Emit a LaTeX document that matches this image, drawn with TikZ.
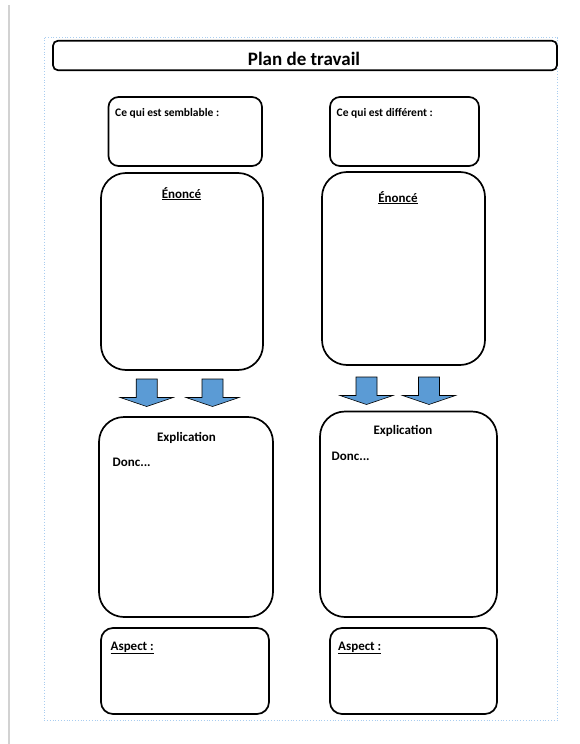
\documentclass[tikz,border=0pt]{standalone}
\usepackage{fontspec}
\setmainfont{Carlito}
\definecolor{arrowblue}{HTML}{5B9BD5}
\definecolor{frameblue}{HTML}{A9CDF0}
\begin{document}
\begin{tikzpicture}[x=1pt,y=-1pt,
  box/.style={draw=black, line width=1.7pt, inner sep=0pt},
  lbl/.style={inner sep=0pt, font=\bfseries},
  arrowstyle/.style={draw=black, line width=0.6pt, fill=arrowblue, line join=miter},
  blockarrow/.pic={\draw[arrowstyle] (-10.5,0) -- (10.5,0) -- (10.5,18.5) -- (26.5,18.5) -- (0,27.5) -- (-26.5,18.5) -- (-10.5,18.5) -- cycle;}
]
\useasboundingbox (0,0) rectangle (579,744);
\fill[white] (0,0) rectangle (579,744);
% page edge line and dotted frame
\draw[gray!35, line width=1.5pt] (9,5) -- (9,744);
\draw[frameblue, dotted, line width=0.8pt] (44,37.5) rectangle (557.5,720.5);
% boxes
\node[box, rounded corners=5pt, minimum width=504pt, minimum height=29.5pt] (title) at (305,55.5) {};
\node[box, rounded corners=10pt, minimum width=153.5pt, minimum height=69pt] (sem) at (185.25,131.5) {};
\node[box, rounded corners=10pt, minimum width=149pt, minimum height=69pt] (diff) at (404.5,131.5) {};
\node[box, rounded corners=25pt, minimum width=162pt, minimum height=197pt] (enL) at (182,271.5) {};
\node[box, rounded corners=25pt, minimum width=163pt, minimum height=193pt] (enR) at (403.5,268.5) {};
\node[box, rounded corners=25pt, minimum width=174pt, minimum height=200pt] (exL) at (186,517) {};
\node[box, rounded corners=25pt, minimum width=177pt, minimum height=205.5pt] (exR) at (408.5,514.25) {};
\node[box, rounded corners=12pt, minimum width=168pt, minimum height=86pt] (asL) at (185,671) {};
\node[box, rounded corners=12pt, minimum width=167pt, minimum height=86pt] (asR) at (413.5,671) {};
% texts
\node[lbl, anchor=base, font=\fontsize{19}{22}\selectfont\bfseries] (titletxt) at (304,65) {Plan de travail};
\node[lbl, anchor=base west, font=\fontsize{11.5}{13}\selectfont\bfseries] (semtxt) at (115,116) {Ce qui est semblable :};
\node[lbl, anchor=base west, font=\fontsize{11.5}{13}\selectfont\bfseries] (difftxt) at (336.5,116) {Ce qui est différent :};
\node[lbl, anchor=base, font=\fontsize{13}{15}\selectfont\bfseries] (enLtxt) at (181.5,198) {\underline{Énoncé}};
\node[lbl, anchor=base, font=\fontsize{13}{15}\selectfont\bfseries] (enRtxt) at (398,202) {\underline{Énoncé}};
\node[lbl, anchor=base, font=\fontsize{13}{15}\selectfont\bfseries] (exLtxt) at (186.5,441.5) {Explication};
\node[lbl, anchor=base, font=\fontsize{13}{15}\selectfont\bfseries] (exRtxt) at (403,434) {Explication};
\node[lbl, anchor=base west, font=\fontsize{13}{15}\selectfont\bfseries] (donLtxt) at (112.5,466) {Donc...};
\node[lbl, anchor=base west, font=\fontsize{13}{15}\selectfont\bfseries] (donRtxt) at (331.5,460.5) {Donc...};
\node[lbl, anchor=base west, font=\fontsize{13}{15}\selectfont\bfseries] (asLtxt) at (110.5,650) {\underline{Aspect :}};
\node[lbl, anchor=base west, font=\fontsize{13}{15}\selectfont\bfseries] (asRtxt) at (338,650) {\underline{Aspect :}};
% block arrows
\pic at (146.7,379) {blockarrow};
\pic at (212.5,379) {blockarrow};
\pic at (366.5,377) {blockarrow};
\pic at (429,377) {blockarrow};
\end{tikzpicture}
\end{document}
